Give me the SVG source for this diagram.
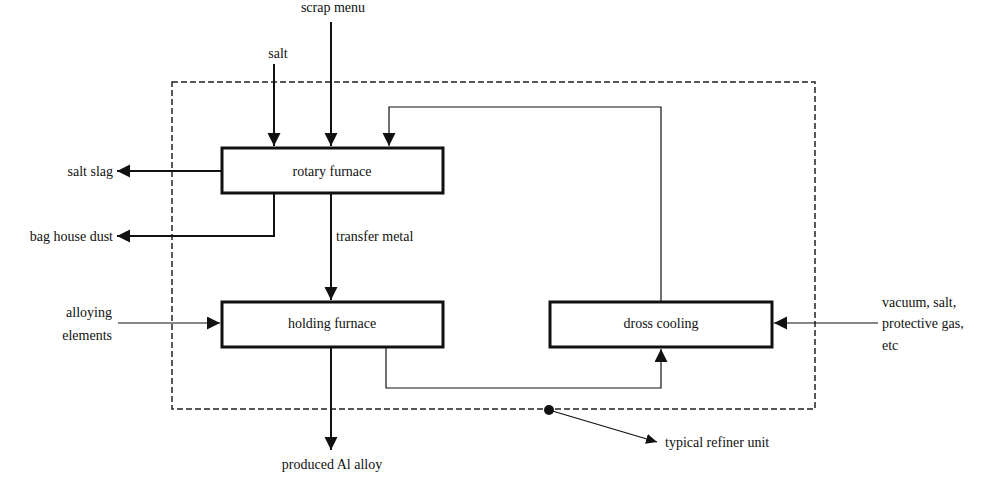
<svg xmlns="http://www.w3.org/2000/svg" width="986" height="477" viewBox="0 0 986 477">
  <style>
    text { font-family: "Liberation Serif", "DejaVu Serif", "Times New Roman", Times, serif; font-size: 14px; fill: #111; }
    .box { fill: #fff; stroke: #111; stroke-width: 3; }
    .thick { fill: none; stroke: #111; stroke-width: 2; }
    .thin { fill: none; stroke: #111; stroke-width: 1.2; }
    .unit { fill: none; stroke: #222; stroke-width: 1.5; stroke-dasharray: 6 3; }
    .mid { text-anchor: middle; }
    .end { text-anchor: end; }
  </style>
  <defs>
    <marker id="arrow" markerUnits="userSpaceOnUse" markerWidth="14" markerHeight="14" refX="13" refY="6.5" orient="auto">
      <path d="M0,0 L13,6.5 L0,13 z" fill="#111"/>
    </marker>
    <marker id="arrowSmall" markerUnits="userSpaceOnUse" markerWidth="12" markerHeight="12" refX="11" refY="5" orient="auto">
      <path d="M0,0 L11,5 L0,10 z" fill="#111"/>
    </marker>
  </defs>

  <!-- refiner unit boundary -->
  <g id="refiner-unit">
    <rect class="unit" x="172" y="82" width="643" height="327"/>
  </g>

  <!-- connectors -->
  <g id="connectors">
    <path class="thick" d="M274,64 V146" marker-end="url(#arrow)"/>
    <path class="thick" d="M331,22 V146" marker-end="url(#arrow)"/>
    <path class="thin" d="M661,302 V107 H389 V146" marker-end="url(#arrow)"/>
    <path class="thick" d="M222,171 H117" marker-end="url(#arrow)"/>
    <path class="thick" d="M274,193 V236 H117" marker-end="url(#arrow)"/>
    <path class="thick" d="M331,193 V300" marker-end="url(#arrow)"/>
    <path class="thin" d="M118,323 H220" marker-end="url(#arrow)"/>
    <path class="thick" d="M331,347 V450" marker-end="url(#arrow)"/>
    <path class="thin" d="M386,347 V388 H661 V349" marker-end="url(#arrow)"/>
    <path class="thin" d="M878,323 H774" marker-end="url(#arrow)"/>
    <circle cx="549" cy="410" r="5" fill="#111"/>
    <path class="thin" d="M549,410 L657,442" marker-end="url(#arrowSmall)"/>
  </g>

  <!-- process nodes -->
  <g id="rotary-furnace">
    <rect class="box" x="222" y="148" width="221" height="45"/>
    <text class="mid" x="332" y="176">rotary furnace</text>
  </g>
  <g id="holding-furnace">
    <rect class="box" x="222" y="302" width="221" height="45"/>
    <text class="mid" x="332" y="328">holding furnace</text>
  </g>
  <g id="dross-cooling">
    <rect class="box" x="550" y="302" width="222" height="45"/>
    <text class="mid" x="661" y="328">dross cooling</text>
  </g>

  <!-- inputs and outputs -->
  <g id="scrap-menu"><text class="mid" x="333" y="12">scrap menu</text></g>
  <g id="salt"><text class="mid" x="278" y="58">salt</text></g>
  <g id="salt-slag"><text class="end" x="113" y="176">salt slag</text></g>
  <g id="bag-house-dust"><text class="end" x="113" y="241">bag house dust</text></g>
  <g id="transfer-metal"><text x="336" y="241">transfer metal</text></g>
  <g id="alloying-elements">
    <text class="end" x="112" y="317">alloying</text>
    <text class="end" x="112" y="340">elements</text>
  </g>
  <g id="produced-alloy"><text class="mid" x="332" y="469">produced Al alloy</text></g>
  <g id="dross-inputs">
    <text x="882" y="307">vacuum, salt,</text>
    <text x="882" y="328">protective gas,</text>
    <text x="882" y="350">etc</text>
  </g>
  <g id="typical-refiner-unit"><text x="665" y="447">typical refiner unit</text></g>
</svg>
